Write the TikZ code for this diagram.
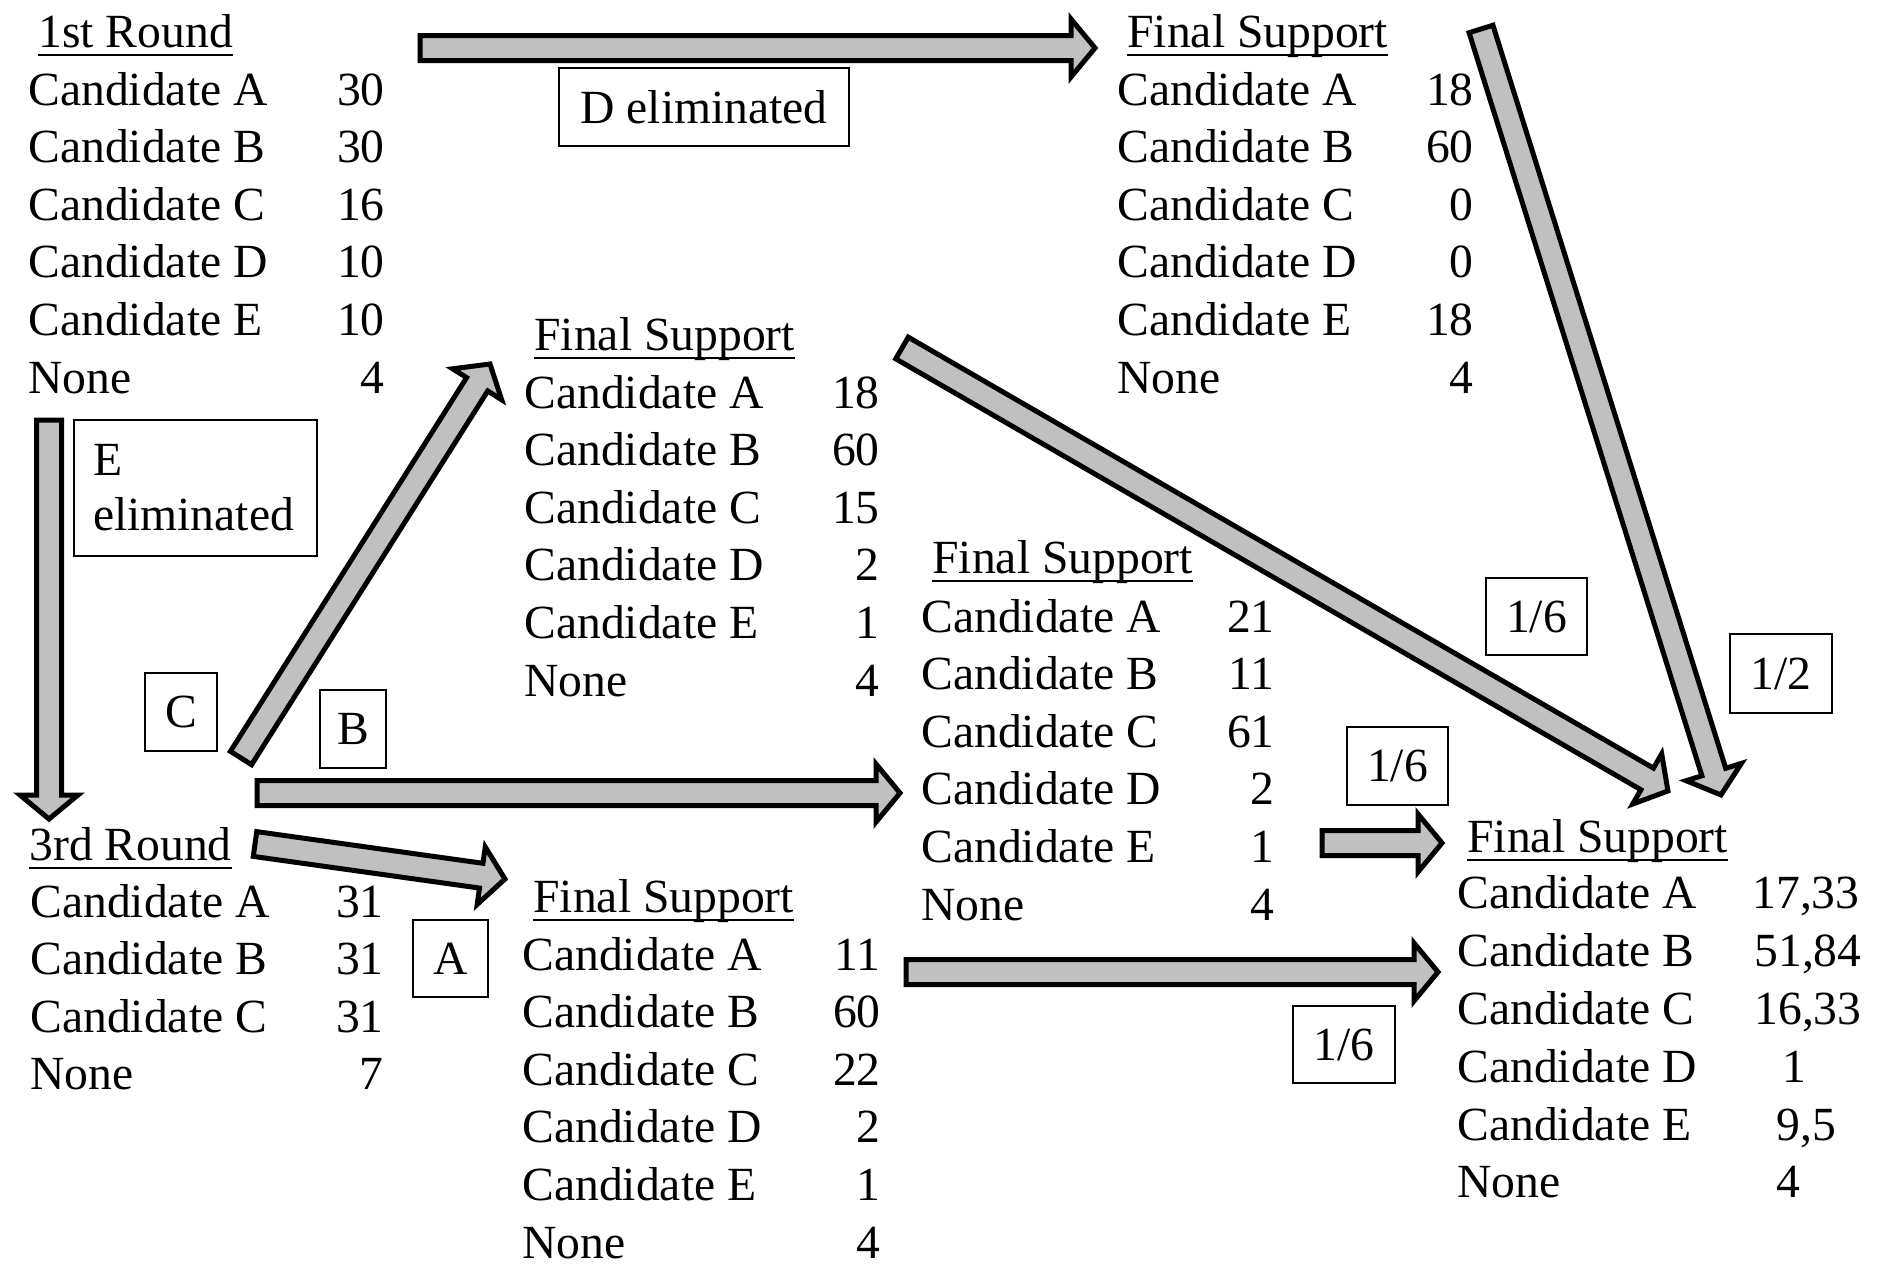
\documentclass[tikz,border=0pt]{standalone}
\usepackage{fontspec}
\setmainfont{Liberation Serif}
\usetikzlibrary{calc}

\definecolor{shaftgray}{HTML}{C0C0C0}

\tikzset{
  txt/.style={inner sep=0pt, font=\fontsize{23.8pt}{27.5pt}\selectfont},
  lab/.style={txt, anchor=base west},
  num/.style={txt, anchor=base east},
  numl/.style={txt, anchor=base west},
  headtxt/.style={txt, anchor=base west},
  uline/.style={line width=1.3pt},
  tag/.style={draw=black, line width=1pt, fill=white, inner sep=0pt,
              font=\fontsize{23.8pt}{27.5pt}\selectfont},
  barrow/.style={draw=black, fill=shaftgray, line width=2.5pt, line join=miter},
}

% block arrow from coordinate #1 (tail) to coordinate #2 (tip)
\newcommand\blockarrow[2]{%
  \path (#1); \pgfgetlastxy{\baX}{\baY}%
  \path (#2); \pgfgetlastxy{\bbX}{\bbY}%
  \pgfmathsetmacro\baAng{atan2(\bbY-\baY,\bbX-\baX)}%
  \pgfmathsetmacro\baLen{veclen(\bbX-\baX,\bbY-\baY)}%
  \draw[barrow, shift={(\baX,\baY)}, rotate=\baAng]
    (0pt,-6.25pt) -- ({\baLen pt-12pt},-6.25pt) -- ({\baLen pt-12pt},-14.5pt)
    -- (\baLen pt,0pt) -- ({\baLen pt-12pt},14.5pt) -- ({\baLen pt-12pt},6.25pt)
    -- (0pt,6.25pt) -- cycle;
}

% underlined heading: name, x, baseline, text
\newcommand\heading[4]{%
  \node[headtxt] (#1) at (#2,#3) {#4};
  \draw[uline] ([yshift=-4pt]#1.base west) -- ([yshift=-4pt]#1.base east);
}

% rows of a tally: name, x of labels, right edge of numbers, first baseline, rows
\newcommand\tally[5]{%
  \foreach \lab/\val [count=\i] in {#5}{%
    \pgfmathsetmacro\rowy{#4+57.6*(\i-1)}%
    \node[lab] (#1-l\i) at (#2,\rowy) {\lab};
    \node[num] (#1-v\i) at (#3,\rowy) {\val};
  }%
}

\begin{document}
\begin{tikzpicture}[x=0.5pt, y=-0.5pt]
\useasboundingbox (0,0) rectangle (1878,1269);

% ---- arrow end points ----
\coordinate (a1s) at (420,48);   \coordinate (a1e) at (1095,48);
\coordinate (a2s) at (49,420);   \coordinate (a2e) at (49,819);
\coordinate (a3s) at (241,758);  \coordinate (a3e) at (490,364);
\coordinate (a4s) at (257,793);  \coordinate (a4e) at (900,793);
\coordinate (a5s) at (255,844);  \coordinate (a5e) at (505,879);
\coordinate (a6s) at (902,348);  \coordinate (a6e) at (1668,791);
\coordinate (a7s) at (1481,29);  \coordinate (a7e) at (1721,795);
\coordinate (a8s) at (1322,843); \coordinate (a8e) at (1442,843);
\coordinate (a9s) at (906,972);  \coordinate (a9e) at (1438,972);

\blockarrow{a1s}{a1e}
\blockarrow{a2s}{a2e}
\blockarrow{a3s}{a3e}
\blockarrow{a4s}{a4e}
\blockarrow{a5s}{a5e}
\blockarrow{a6s}{a6e}
\blockarrow{a7s}{a7e}
\blockarrow{a8s}{a8e}
\blockarrow{a9s}{a9e}

% ---- 1st round ----
\heading{r1}{38}{47}{1st Round}
\tally{r1}{28}{385}{105}{Candidate A/30, Candidate B/30, Candidate C/16,
  Candidate D/10, Candidate E/10, None/4}

% ---- final support after D is eliminated ----
\heading{fs1}{1127}{47}{Final Support}
\tally{fs1}{1117}{1474}{105}{Candidate A/18, Candidate B/60, Candidate C/0,
  Candidate D/0, Candidate E/18, None/4}

% ---- final support, C branch ----
\heading{fs2}{534}{350}{Final Support}
\tally{fs2}{524}{880}{408}{Candidate A/18, Candidate B/60, Candidate C/15,
  Candidate D/2, Candidate E/1, None/4}

% ---- final support, B branch ----
\heading{fs3}{932}{573}{Final Support}
\tally{fs3}{921}{1275}{632}{Candidate A/21, Candidate B/11, Candidate C/61,
  Candidate D/2, Candidate E/1, None/4}

% ---- 3rd round ----
\heading{r3}{29}{860}{3rd Round}
\tally{r3}{30}{384}{917}{Candidate A/31, Candidate B/31, Candidate C/31, None/7}

% ---- final support, A branch ----
\heading{fs4}{533}{912}{Final Support}
\tally{fs4}{522}{881}{970}{Candidate A/11, Candidate B/60, Candidate C/22,
  Candidate D/2, Candidate E/1, None/4}

% ---- weighted final support ----
\heading{fs5}{1467}{852}{Final Support}
\node[lab] (fs5-l1) at (1457,908)  {Candidate A};
\node[lab] (fs5-l2) at (1457,966)  {Candidate B};
\node[lab] (fs5-l3) at (1457,1024) {Candidate C};
\node[lab] (fs5-l4) at (1457,1082) {Candidate D};
\node[lab] (fs5-l5) at (1457,1140) {Candidate E};
\node[lab] (fs5-l6) at (1457,1197) {None};
\node[numl] (fs5-v1) at (1752,908)  {17,33};
\node[numl] (fs5-v2) at (1754,966)  {51,84};
\node[numl] (fs5-v3) at (1754,1024) {16,33};
\node[numl] (fs5-v4) at (1782,1082) {1};
\node[numl] (fs5-v5) at (1776,1140) {9,5};
\node[numl] (fs5-v6) at (1776,1197) {4};

% ---- tags ----
\node[tag, minimum width=145pt, minimum height=39pt] (tD) at (704,107) {D eliminated};
\node[tag, anchor=north west, minimum width=121.5pt, minimum height=68pt,
      inner xsep=9.5pt, text width=102.5pt, align=left] (tE) at (73,419)
      {E\\eliminated};
\node[tag, minimum width=36pt, minimum height=39pt] (tC) at (181,712) {C};
\node[tag, minimum width=33pt, minimum height=39pt] (tB) at (353,729) {B};
\node[tag, minimum width=37.5pt, minimum height=38.5pt] (tA) at (450.5,958.5) {A};
\node[tag, minimum width=50.5pt, minimum height=38.5pt] (w1) at (1536.5,616.5) {1/6};
\node[tag, minimum width=51pt, minimum height=39.5pt] (w2) at (1781,673.5) {1/2};
\node[tag, minimum width=50.5pt, minimum height=39pt] (w3) at (1397.5,766) {1/6};
\node[tag, minimum width=51pt, minimum height=38.5pt] (w4) at (1344,1044.5) {1/6};
\end{tikzpicture}
\end{document}
